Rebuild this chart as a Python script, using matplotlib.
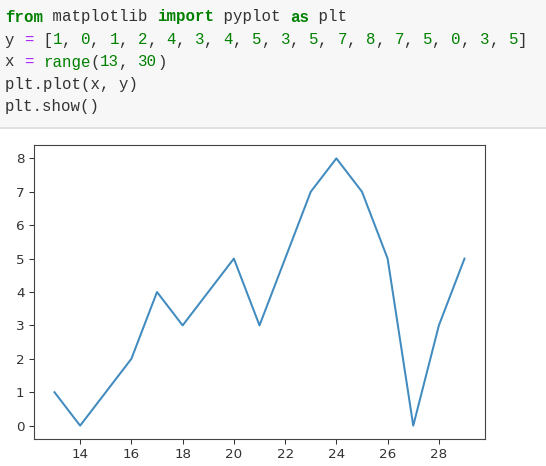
import matplotlib
matplotlib.use("Agg")
import matplotlib.pyplot as plt
from matplotlib.patches import Rectangle
from matplotlib.lines import Line2D

# data shown in the notebook cell
x = [13, 14, 15, 16, 17, 18, 19, 20, 21, 22, 23, 24, 25, 26, 27, 28, 29]
y = [1, 0, 1, 2, 4, 3, 4, 5, 3, 5, 7, 8, 7, 5, 0, 3, 5]

# code cell tokens: (text, style)
kw, num, op, txt = "kw", "num", "op", "txt"
code_lines = [
    [("from", kw), (" matplotlib ", txt), ("import", kw), (" pyplot ", txt), ("as", kw), (" plt", txt)],
    [("y ", txt), ("=", op), (" [", txt)]
    + sum([[(str(v), num), (", " if i < len(y) - 1 else "", txt)] for i, v in enumerate(y)], [])
    + [("]", txt)],
    [("x ", txt), ("=", op), (" ", txt), ("range", num), ("(", txt), ("13", num), (", ", txt), ("30", num), (")", txt)],
    [("plt.plot(x, y)", txt)],
    [("plt.show()", txt)],
]
styles = {
    kw: dict(color="#008000", fontweight="bold"),
    num: dict(color="#008000"),
    op: dict(color="#AA22FF"),
    txt: dict(color="#333333"),
}

W, H = 546, 466
fig = plt.figure(figsize=(W / 100, H / 100), dpi=100)

# gray code cell background
fig.patches.append(Rectangle((0, 1 - 127 / H), 1, 127 / H, transform=fig.transFigure,
                             facecolor="#f7f7f7", edgecolor="none", zorder=0))
fig.lines.append(Line2D([0, 1], [1 - 128 / H, 1 - 128 / H], transform=fig.transFigure,
                        color="#dcdcdc", lw=1.2))

char_w = 9.5
line_y = [17, 40, 62, 85, 107]
for ly, toks in zip(line_y, code_lines):
    col = 0
    for t, s in toks:
        if t:
            fig.text((5 + col * char_w) / W, 1 - ly / H, t, family="Liberation Mono",
                     fontsize=11.3, va="center", ha="left", **styles[s])
        col += len(t)

ax = fig.add_axes([34 / W, 27 / H, (485 - 34) / W, (439 - 145) / H])
ax.plot(x, y, color="#1f77b4", lw=1.45, alpha=0.85)

ax.set_xticks([14, 16, 18, 20, 22, 24, 26, 28])
ax.set_yticks([0, 1, 2, 3, 4, 5, 6, 7, 8])
ax.tick_params(labelsize=9.7, length=3.4, width=0.75, pad=3.4, colors="#333333")
for sp in ax.spines.values():
    sp.set_linewidth(0.8)
    sp.set_color("#444444")

fig.savefig("out.png", dpi=100)
